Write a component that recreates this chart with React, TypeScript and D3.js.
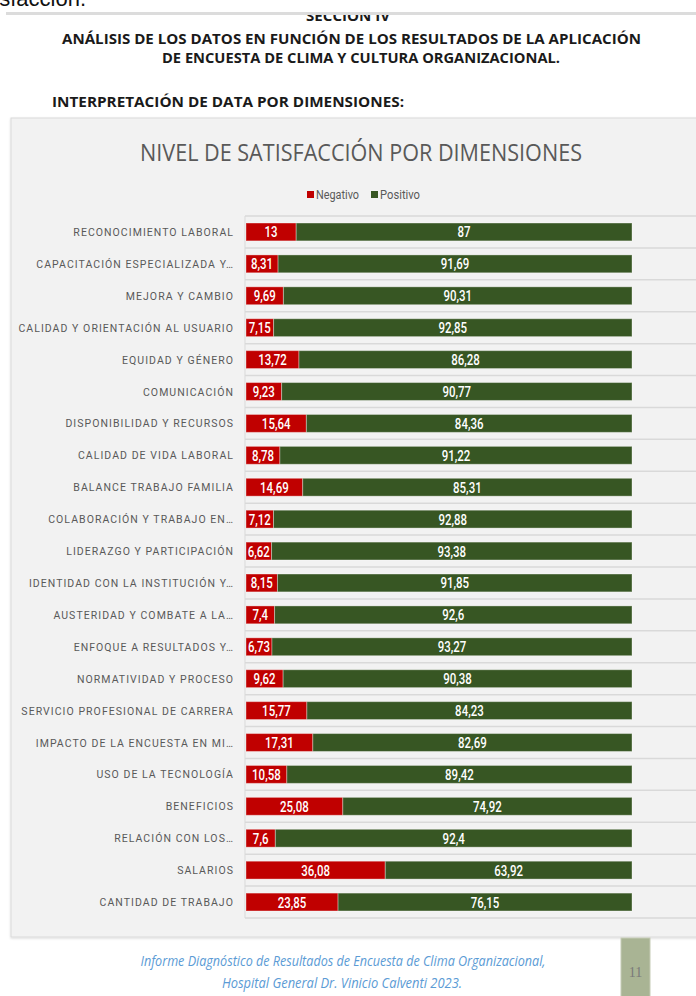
import React from "react";
import * as d3 from "d3";

const categories = [
  "RECONOCIMIENTO LABORAL",
  "CAPACITACIÓN ESPECIALIZADA Y…",
  "MEJORA Y CAMBIO",
  "CALIDAD Y ORIENTACIÓN AL USUARIO",
  "EQUIDAD Y GÉNERO",
  "COMUNICACIÓN",
  "DISPONIBILIDAD Y RECURSOS",
  "CALIDAD DE VIDA LABORAL",
  "BALANCE TRABAJO FAMILIA",
  "COLABORACIÓN Y TRABAJO EN…",
  "LIDERAZGO Y PARTICIPACIÓN",
  "IDENTIDAD CON LA INSTITUCIÓN Y…",
  "AUSTERIDAD Y COMBATE A LA…",
  "ENFOQUE A RESULTADOS Y…",
  "NORMATIVIDAD Y PROCESO",
  "SERVICIO PROFESIONAL DE CARRERA",
  "IMPACTO DE LA ENCUESTA EN MI…",
  "USO DE LA TECNOLOGÍA",
  "BENEFICIOS",
  "RELACIÓN CON LOS…",
  "SALARIOS",
  "CANTIDAD DE TRABAJO",
];

const negativo = [13, 8.31, 9.69, 7.15, 13.72, 9.23, 15.64, 8.78, 14.69, 7.12, 6.62, 8.15, 7.4, 6.73, 9.62, 15.77, 17.31, 10.58, 25.08, 7.6, 36.08, 23.85];
const positivo = [87, 91.69, 90.31, 92.85, 86.28, 90.77, 84.36, 91.22, 85.31, 92.88, 93.38, 91.85, 92.6, 93.27, 90.38, 84.23, 82.69, 89.42, 74.92, 92.4, 63.92, 76.15];

const seriesNames = ["Negativo", "Positivo"];
const seriesColors = ["#c00000", "#375623"];

const W = 696;
const H = 996;

const fmt = (v: number) => String(v).replace(".", ",");

export default function App() {
  const x = d3.scaleLinear().domain([0, 100]).range([246, 632]);
  const y = d3
    .scaleBand<string>()
    .domain(categories)
    .range([216, 918])
    .paddingInner(0.44)
    .paddingOuter(0.22);
  const step = y.step();
  const bw = y.bandwidth();
  const gridYs = d3.range(categories.length + 1).map((i) => 216 + i * step);

  const rows = categories.map((c, i) => ({ c, neg: negativo[i], pos: positivo[i] }));
  const stack = d3.stack<any>().keys(["neg", "pos"])(rows);

  return (
    <svg width={W} height={H} style={{ position: "absolute", left: 0, top: 0, background: "#ffffff" }}>
      <defs>
        <clipPath id="secClip">
          <rect x={0} y={15} width={W} height={20} />
        </clipPath>
        <filter id="shadow" x="-5%" y="-5%" width="110%" height="110%">
          <feDropShadow dx="0" dy="1" stdDeviation="1.2" floodColor="#000" floodOpacity="0.15" />
        </filter>
      </defs>

      {/* previous page tail */}
      <text x={86} y={6} textAnchor="end" fontFamily="'Liberation Sans', Arial, sans-serif" fontSize={22} fill="#111">
        satisfacción.
      </text>
      <rect x={6} y={12} width={W - 6} height={3} fill="#dcdcdc" />

      {/* section header */}
      <g clipPath="url(#secClip)">
        <text x={348} y={21} textAnchor="middle" fontFamily="'Open Sans', sans-serif" fontWeight={700} fontSize={14} fill="#1a1a1a" textLength={84} lengthAdjust="spacingAndGlyphs">
          SECCIÓN IV
        </text>
      </g>
      <text x={62} y={44} fontFamily="'Open Sans', sans-serif" fontWeight={700} fontSize={14.5} fill="#1a1a1a" textLength={579} lengthAdjust="spacingAndGlyphs">
        ANÁLISIS DE LOS DATOS EN FUNCIÓN DE LOS RESULTADOS DE LA APLICACIÓN
      </text>
      <text x={162} y={63} fontFamily="'Open Sans', sans-serif" fontWeight={700} fontSize={14.5} fill="#1a1a1a" textLength={398} lengthAdjust="spacingAndGlyphs">
        DE ENCUESTA DE CLIMA Y CULTURA ORGANIZACIONAL.
      </text>
      <text x={52} y={107} fontFamily="'Open Sans', sans-serif" fontWeight={700} fontSize={14.5} fill="#1a1a1a" textLength={352} lengthAdjust="spacingAndGlyphs">
        INTERPRETACIÓN DE DATA POR DIMENSIONES:
      </text>

      {/* chart panel */}
      <rect x={11} y={118} width={W - 6} height={819} fill="#f2f2f2" stroke="#dadada" strokeWidth={1} filter="url(#shadow)" />

      <text x={361} y={161} textAnchor="middle" fontFamily="'Open Sans', sans-serif" fontSize={23} fill="#595959" textLength={442} lengthAdjust="spacingAndGlyphs">
        NIVEL DE SATISFACCIÓN POR DIMENSIONES
      </text>

      {/* legend */}
      {seriesNames.map((s, i) => {
        const lx = i === 0 ? 307 : 371;
        return (
          <g key={s}>
            <rect x={lx} y={191} width={7} height={7} fill={seriesColors[i]} />
            <text x={lx + 9} y={199} fontFamily="'Roboto', sans-serif" fontSize={12.5} fill="#595959" textLength={i === 0 ? 43 : 40} lengthAdjust="spacingAndGlyphs">
              {s}
            </text>
          </g>
        );
      })}

      {/* gridlines */}
      {gridYs.map((gy, i) => (
        <line key={i} x1={245} x2={W} y1={gy} y2={gy} stroke="#d9d9d9" strokeWidth={1.5} />
      ))}
      <line x1={245} x2={245} y1={216} y2={918} stroke="#d9d9d9" strokeWidth={1} />

      {/* bars */}
      {stack.map((layer, si) =>
        layer.map((d: any, i: number) => (
          <rect
            key={si + "-" + i}
            x={x(d[0])}
            y={y(categories[i])!}
            width={x(d[1]) - x(d[0])}
            height={bw}
            fill={seriesColors[si]}
            stroke="#ffffff"
            strokeOpacity={0.35}
            strokeWidth={1}
          />
        ))
      )}

      {/* value labels */}
      {stack.map((layer, si) =>
        layer.map((d: any, i: number) => {
          const cx = (x(d[0]) + x(d[1])) / 2;
          const cy = y(categories[i])! + bw / 2 + 5.5;
          return (
            <text
              key={"l" + si + "-" + i}
              transform={`translate(${cx},${cy}) scale(0.74,1)`}
              textAnchor="middle"
              fontFamily="'Roboto', sans-serif"
              fontWeight={500}
              fontSize={15.5}
              fill="#ffffff"
            >
              {fmt(si === 0 ? negativo[i] : positivo[i])}
            </text>
          );
        })
      )}

      {/* category labels */}
      {categories.map((c) => (
        <text
          key={c}
          x={234}
          y={y(c)! + bw / 2 + 4}
          textAnchor="end"
          fontFamily="'Roboto', sans-serif"
          fontSize={10.5}
          letterSpacing={1.05}
          fill="#595959"
        >
          {c}
        </text>
      ))}

      {/* footer */}
      <text x={343} y={966} textAnchor="middle" fontFamily="'Open Sans', sans-serif" fontStyle="italic" fontSize={15} fill="#5b9bd5" textLength={405} lengthAdjust="spacingAndGlyphs">
        Informe Diagnóstico de Resultados de Encuesta de Clima Organizacional,
      </text>
      <text x={342} y={988} textAnchor="middle" fontFamily="'Open Sans', sans-serif" fontStyle="italic" fontSize={15} fill="#5b9bd5" textLength={240} lengthAdjust="spacingAndGlyphs">
        Hospital General Dr. Vinicio Calventi 2023.
      </text>
      <rect x={621} y={938} width={29} height={60} fill="#a9b494" stroke="#c5cbb5" strokeWidth={1} />
      <text x={635.5} y={977} textAnchor="middle" fontFamily="'Liberation Serif', serif" fontSize={14} fill="#7a7a7a">
        11
      </text>
    </svg>
  );
}
